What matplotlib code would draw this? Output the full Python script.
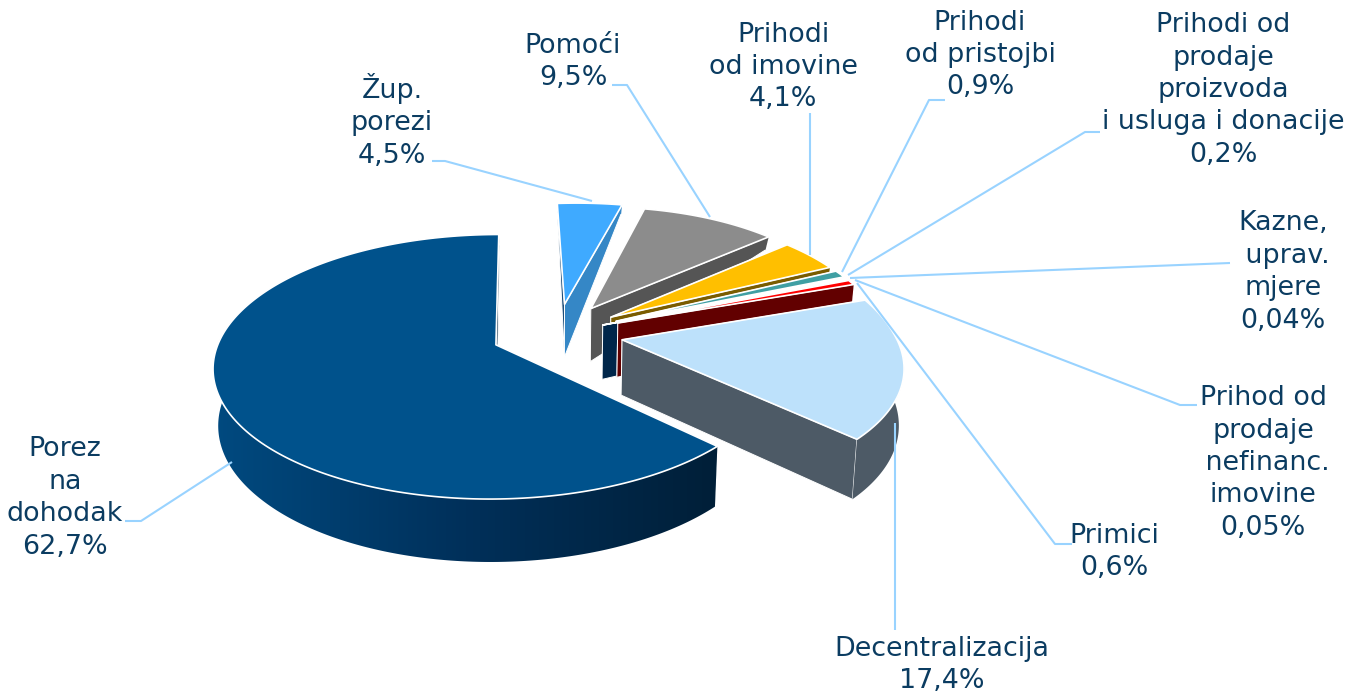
import numpy as np
import matplotlib
matplotlib.use("Agg")
import matplotlib.pyplot as plt
from matplotlib.colors import LinearSegmentedColormap
from matplotlib.patches import Polygon

# clockwise from 12 o'clock, biggest slice ends back at the top
categories = ["Žup. porezi", "Pomoći", "Prihodi od imovine", "Prihodi od pristojbi",
              "Prihodi od prodaje", "Kazne, uprav. mjere", "Prihod od prodaje nefinanc. imovine",
              "Primici", "Decentralizacija", "Porez na dohodak"]
values = [4.5, 9.5, 4.1, 0.9, 0.2, 0.04, 0.05, 0.6, 17.4, 62.7]
value_labels = ["4,5%", "9,5%", "4,1%", "0,9%", "0,2%", "0,04%", "0,05%", "0,6%", "17,4%", "62,7%"]
name_labels = ["Žup.\nporezi", "Pomoći", "Prihodi\nod imovine", "Prihodi\nod pristojbi",
               "Prihodi od\nprodaje\nproizvoda\ni usluga i donacije", "Kazne,\n uprav.\nmjere",
               "Prihod od\nprodaje\n nefinanc.\nimovine", "Primici", "Decentralizacija",
               "Porez\nna\ndohodak"]

top_colors = ["#3FAAFF", "#8C8C8C", "#FFBF00", "#3F9FA3", "#FFFFFF", "#D9D9D9", "#FFFFFF",
              "#FF0000", "#BDE1FB", "#00528C"]
side_colors = ["#3587C6", "#555555", "#7A5C00", "#FFFFFF", "#FFFFFF", "#FFFFFF", "#00264A",
               "#620000", "#4D5A66", "#00223D"]
start_colors = ["#1F4E79"] + side_colors[1:]
explode = [0.238, 0.238, 0.238, 0.238, 0.238, 0.238, 0.18, 0.238, 0.238, 0.238]
radius = [1, 0.985, 0.975, 0.975, 0.975, 0.975, 0.975, 0.975, 0.985, 0.99]

# label centres and leader lines, in picture pixels
label_pos = [(392, 121), (573, 62), (783, 67), (980, 55), (1223, 90), (1283, 272),
             (1263, 463), (1114, 552), (942, 665), (65, 498)]
leaders = [[(432, 161), (445, 161), (592, 201)],
           [(612, 85), (627, 85), (710, 217)],
           [(810, 113), (810, 255)],
           [(945, 100), (929, 100), (842, 272)],
           [(1100, 132), (1085, 132), (848, 275)],
           [(1230, 263), (850, 278)],
           [(1197, 405), (1180, 405), (855, 280)],
           [(1072, 544), (1055, 544), (857, 283)],
           [(895, 630), (895, 423)],
           [(125, 521), (141, 521), (232, 462)]]

CX, CY = 557, 333
A, B, K, SHEAR = 276.7, 126, 0.165, 6
WARP = 6
H_V = [-1.2, -0.84, -0.3, 0, 0.75, 1.09]
H_PX = [9, 12, 52, 55, 60, 63]
TEXT = "#0B3C61"
LEADER = "#99D3FF"


def project(u, v):
    w = 1 - K * v
    # far right of the disc sits a bit higher than a plain perspective gives
    warp = WARP * np.clip(u, 0, None) * np.clip(-v, 0, None)
    return CX + A * u / w + SHEAR * v, CY + B * v / w - warp


def project_low(u, v):
    x, y = project(u, v)
    return CX + (x - CX) * 0.985, y + np.interp(v, H_V, H_PX)


fig = plt.figure(figsize=(13.48, 6.93), dpi=100)
ax = fig.add_axes([0, 0, 1, 1])

edges = np.deg2rad(np.cumsum([0] + values) / sum(values) * 360)
rim_cmap = LinearSegmentedColormap.from_list("rim", ["#004A80", "#00305A", "#001F38"])

for i in range(len(values)):
    t0, t1 = edges[i], edges[i + 1]
    mid = (t0 + t1) / 2
    off_u, off_v = explode[i] * np.sin(mid), -explode[i] * np.cos(mid)
    t = np.linspace(t0, t1, max(int((t1 - t0) * 80), 3))
    u = off_u + radius[i] * np.sin(t)
    v = off_v - radius[i] * np.cos(t)
    ax_x, ax_y = project(off_u, off_v)
    low_ax_x, low_ax_y = project_low(off_u, off_v)
    x, y = project(u, v)
    lx, ly = project_low(u, v)

    # cut faces first, the top covers what is behind it
    ax.fill([ax_x, x[0], lx[0], low_ax_x], [ax_y, y[0], ly[0], low_ax_y],
            fc=start_colors[i], ec="white", lw=0.7, zorder=i + 1)
    ax.fill([ax_x, x[-1], lx[-1], low_ax_x], [ax_y, y[-1], ly[-1], low_ax_y],
            fc=side_colors[i], ec="white", lw=0.7, zorder=i + 1)

    if categories[i] == "Porez na dohodak":
        # gradient runs left to right across the rim
        near = v > -0.1
        rim = np.c_[np.r_[x[near], lx[near][::-1]], np.r_[y[near], ly[near][::-1]]]
        patch = Polygon(rim, closed=True, fc="none", ec="none", transform=ax.transData)
        ax.add_patch(patch)
        img = ax.imshow(np.linspace(0, 1, 256)[None, :], cmap=rim_cmap, aspect="auto",
                        extent=(rim[:, 0].min(), rim[:, 0].max(), rim[:, 1].max(), rim[:, 1].min()),
                        zorder=i + 1)
        img.set_clip_path(patch)
    else:
        ax.fill(np.r_[x, lx[::-1]], np.r_[y, ly[::-1]], fc=side_colors[i], ec="none", zorder=i + 1)

    ax.fill(np.r_[ax_x, x], np.r_[ax_y, y], fc=top_colors[i], ec="white", lw=1.2,
            zorder=i + 1, joinstyle="round")

for line in leaders:
    xs, ys = zip(*line)
    ax.plot(xs, ys, color=LEADER, lw=1.5, zorder=20, solid_capstyle="butt")

for name, val, (lx_, ly_) in zip(name_labels, value_labels, label_pos):
    ax.text(lx_, ly_, name + "\n" + val, ha="center", va="center", multialignment="center",
            fontsize=19.4, color=TEXT, linespacing=1.32, family="DejaVu Sans", zorder=30)

ax.set_xlim(0, 1348)
ax.set_ylim(693, 0)
ax.axis("off")

fig.savefig("out.png", dpi=100)
